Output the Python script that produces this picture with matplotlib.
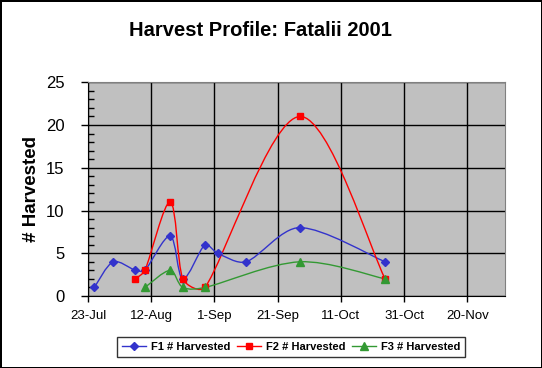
import matplotlib
matplotlib.use("Agg")
import matplotlib.pyplot as plt
import matplotlib.dates as mdates
from matplotlib.path import Path
from matplotlib.patches import PathPatch
from matplotlib.ticker import MultipleLocator
from datetime import datetime
import math

plt.rcParams['font.family'] = ['Liberation Sans', 'DejaVu Sans']

f1_dates = ["2001-07-25", "2001-07-31", "2001-08-07", "2001-08-10", "2001-08-18",
            "2001-08-22", "2001-08-29", "2001-09-02", "2001-09-11", "2001-09-28", "2001-10-25"]
f1_vals = [1, 4, 3, 3, 7, 2, 6, 5, 4, 8, 4]

f2_dates = ["2001-08-07", "2001-08-10", "2001-08-18", "2001-08-22", "2001-08-29",
            "2001-09-28", "2001-10-25"]
f2_vals = [2, 3, 11, 2, 1, 21, 2]

f3_dates = ["2001-08-10", "2001-08-18", "2001-08-22", "2001-08-29", "2001-09-28", "2001-10-25"]
f3_vals = [1, 3, 1, 1, 4, 2]

tick_dates = ["2001-07-23", "2001-08-12", "2001-09-01", "2001-09-21",
              "2001-10-11", "2001-10-31", "2001-11-20"]


def to_num(ds):
    return [mdates.date2num(datetime.strptime(d, "%Y-%m-%d")) for d in ds]


def smooth_path(ax, xs, ys):
    # bezier smoothing done in screen space, arms scaled by segment lengths
    trans = ax.transData
    pts = [tuple(trans.transform((x, y))) for x, y in zip(xs, ys)]
    n = len(pts)

    def dist(a, b):
        return math.hypot(b[0] - a[0], b[1] - a[1])

    verts = [pts[0]]
    codes = [Path.MOVETO]
    for i in range(n - 1):
        p0 = pts[i - 1] if i > 0 else pts[i]
        p1 = pts[i]
        p2 = pts[i + 1]
        p3 = pts[i + 2] if i + 2 < n else pts[i + 1]
        d01, d12, d23 = dist(p0, p1), dist(p1, p2), dist(p2, p3)
        fa = 1 / 6
        if d01 + d12 > 0 and i > 0:
            fa *= min(1.0, 2 * d12 / (d01 + d12))
        fb = 1 / 6
        if d12 + d23 > 0 and i + 2 < n:
            fb *= min(1.0, 2 * d12 / (d12 + d23))
        c1 = (p1[0] + (p2[0] - p0[0]) * fa, p1[1] + (p2[1] - p0[1]) * fa)
        c2 = (p2[0] - (p3[0] - p1[0]) * fb, p2[1] - (p3[1] - p1[1]) * fb)
        verts += [c1, c2, p2]
        codes += [Path.CURVE4] * 3
    inv = trans.inverted()
    verts = [tuple(inv.transform(v)) for v in verts]
    return Path(verts, codes)


fig = plt.figure(figsize=(5.42, 3.68), dpi=100)
fig.patch.set_facecolor('white')
fig.patch.set_edgecolor('black')
fig.patch.set_linewidth(2)

ax = fig.add_axes([88 / 542, 1 - 296 / 368, 417.3 / 542, 213.7 / 368])
ax.set_facecolor('#C0C0C0')
ax.set_xlim(mdates.date2num(datetime(2001, 7, 23)), mdates.date2num(datetime(2001, 12, 2)))
ax.set_ylim(0, 25)

series = [
    ("F1 # Harvested", f1_dates, f1_vals, '#3333CC', 'D', 4.3),
    ("F2 # Harvested", f2_dates, f2_vals, '#FF0000', 's', 4.2),
    ("F3 # Harvested", f3_dates, f3_vals, '#339933', '^', 5.5),
]
for label, ds, vs, col, mk, ms in series:
    xs = to_num(ds)
    ax.add_patch(PathPatch(smooth_path(ax, xs, vs), facecolor='none', edgecolor=col, lw=1, zorder=3))
    ax.plot(xs, vs, linestyle='none', marker=mk, color=col, markersize=ms, zorder=4)
    ax.plot([], [], color=col, marker=mk, markersize=ms, lw=1, label=label)

ax.set_xticks(to_num(tick_dates))
ax.xaxis.set_major_formatter(mdates.DateFormatter('%-d-%b'))
ax.yaxis.set_major_locator(MultipleLocator(5))
ax.yaxis.set_minor_locator(MultipleLocator(1))
ax.grid(True, which='major', color='black', lw=1)
ax.set_axisbelow(True)

ax.tick_params(axis='y', which='major', direction='out', length=5, width=1, labelsize=12, pad=12)
ax.tick_params(axis='y', which='minor', direction='in', length=4, width=1)
ax.tick_params(axis='x', which='major', direction='out', length=4, width=1, labelsize=9.5, pad=6)

for s in ['left', 'bottom']:
    ax.spines[s].set_color('black')
for s in ['top', 'right']:
    ax.spines[s].set_color('#808080')

fig.text(260.5 / 542, 1 - 31 / 368, "Harvest Profile: Fatalii 2001", fontsize=14.5,
         fontweight='bold', ha='center', va='center')
fig.text(32 / 542, 1 - 189.5 / 368, "# Harvested", fontsize=13.5, fontweight='bold',
         rotation=90, ha='center', va='center')

leg = fig.legend(loc='center', bbox_to_anchor=(291 / 542, 1 - 347 / 368), ncol=3,
                 prop={'weight': 'bold', 'size': 8}, frameon=True, fancybox=False,
                 handlelength=2.2, handletextpad=0.4, columnspacing=0.6, borderpad=0.45,
                 borderaxespad=0)
leg.get_frame().set_edgecolor('black')
leg.get_frame().set_linewidth(1)

fig.savefig("out.png", dpi=100)
